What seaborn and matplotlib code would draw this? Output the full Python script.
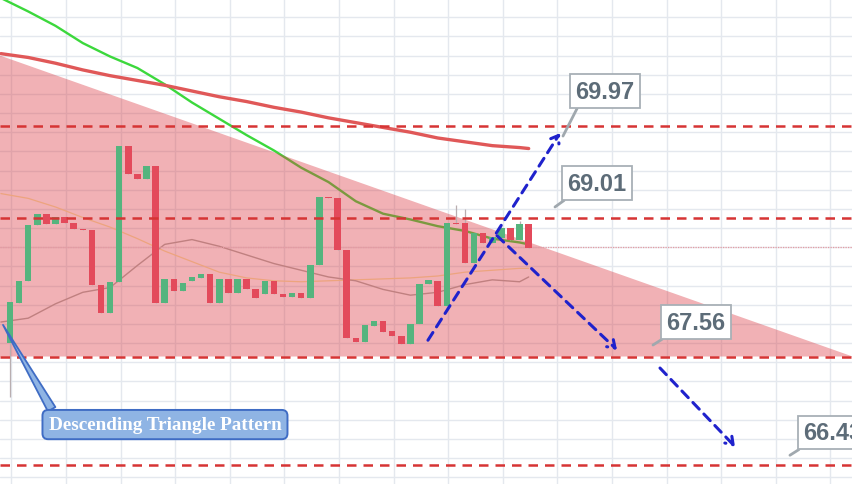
import numpy as np
import pandas as pd
import matplotlib
matplotlib.use("Agg")
import matplotlib.pyplot as plt
import seaborn as sns

# ---------------- data ----------------
candle_idx = list(range(58))
opens = [67.70, 68.12, 68.35, 68.93, 69.05, 68.94, 69.02, 68.95, 68.89, 68.88,
         68.31, 68.01, 68.34, 69.76, 69.46, 69.41, 69.55, 68.12, 68.37, 68.24,
         68.35, 68.38, 68.42, 68.12, 68.37, 68.22, 68.37, 68.26, 68.21, 68.35,
         68.21, 68.18, 68.22, 68.17, 68.52, 69.22, 69.21, 68.67, 67.75, 67.71,
         67.88, 67.93, 67.83, 67.77, 67.69, 67.90, 68.32, 68.35, 68.09, 68.95,
         68.95, 68.54, 68.85, 68.74, 68.80, 68.90, 68.78, 68.94]
closes = [68.13, 68.35, 68.93, 69.05, 68.94, 69.02, 68.95, 68.89, 68.88, 68.31,
          68.01, 68.34, 69.76, 69.46, 69.41, 69.55, 68.12, 68.37, 68.24, 68.33,
          68.39, 68.42, 68.12, 68.37, 68.22, 68.37, 68.26, 68.17, 68.35, 68.21,
          68.18, 68.22, 68.17, 68.52, 69.22, 69.21, 68.67, 67.75, 67.71, 67.89,
          67.93, 67.82, 67.77, 67.69, 67.90, 68.32, 68.36, 68.09, 68.95, 68.94,
          68.54, 68.85, 68.74, 68.81, 68.90, 68.78, 68.94, 68.69]
highs = [68.13, 68.35, 68.93, 69.05, 69.05, 69.02, 69.02, 68.95, 68.89, 68.88,
         68.31, 68.34, 69.76, 69.76, 69.46, 69.55, 69.55, 68.37, 68.37, 68.33,
         68.39, 68.42, 68.42, 68.37, 68.37, 68.37, 68.37, 68.26, 68.35, 68.35,
         68.21, 68.22, 68.22, 68.52, 69.22, 69.22, 69.21, 68.67, 67.75, 67.89,
         67.93, 67.93, 67.83, 67.77, 67.90, 68.32, 68.36, 68.35, 68.95, 69.14,
         69.10, 68.85, 68.85, 68.81, 68.93, 68.90, 68.97, 68.94]
lows = [67.14, 68.12, 68.35, 68.93, 68.94, 68.94, 68.95, 68.89, 68.88, 68.31,
        68.01, 68.01, 68.34, 69.46, 69.41, 69.41, 68.12, 68.12, 68.24, 68.24,
        68.35, 68.38, 68.12, 68.12, 68.22, 68.22, 68.26, 68.17, 68.21, 68.21,
        68.18, 68.18, 68.17, 68.17, 68.52, 69.21, 68.67, 67.75, 67.71, 67.71,
        67.88, 67.82, 67.77, 67.69, 67.69, 67.90, 68.32, 68.09, 68.09, 68.94,
        68.54, 68.54, 68.74, 68.74, 68.80, 68.78, 68.78, 68.69]

ma_idx = [-1, 2, 5, 8, 11, 14, 17, 20, 23, 26, 29, 32, 35, 38, 41, 44, 47, 50, 53, 56, 57]
ma_green = [71.30, 71.16, 71.01, 70.83, 70.69, 70.57, 70.40, 70.21, 70.04, 69.87, 69.71,
            69.53, 69.38, 69.18, 69.05, 68.99, 68.92, 68.87, 68.79, 68.75, 68.73]
ma_red = [70.72, 70.68, 70.62, 70.55, 70.49, 70.44, 70.39, 70.33, 70.27, 70.22, 70.16,
          70.11, 70.05, 70.00, 69.95, 69.90, 69.84, 69.80, 69.76, 69.74, 69.73]
ma_orange = [69.26, 69.21, 69.12, 69.01, 68.91, 68.79, 68.66, 68.55, 68.44, 68.38, 68.35,
             68.34, 68.35, 68.36, 68.37, 68.38, 68.40, 68.44, 68.46, 68.48, 68.48]
ma_brown = [67.92, 67.96, 68.11, 68.23, 68.28, 68.51, 68.73, 68.78, 68.71, 68.62, 68.53,
            68.46, 68.39, 68.35, 68.26, 68.20, 68.23, 68.31, 68.36, 68.34, 68.39]

levels = [69.97, 69.01, 67.56, 66.43]
level_labels = ["69.97", "69.01", "67.56", "66.43"]
last_price = 68.70

tri_x = [-1.1, 92.6, -1.1]
tri_y = [70.70, 67.56, 67.56]

# ---------------- figure ----------------
sns.set_style("white")
fig = plt.figure(figsize=(8.52, 4.85), dpi=100)
ax = fig.add_axes([0, 0, 1, 1])
ax.set_xlim(-1.1, 92.53)
ax.set_ylim(66.23, 71.29)
ax.set_axis_off()

# grid
for gx in np.arange(0.16, 93, 6):
    ax.axvline(gx, color="#e4e8ee", lw=1.0, zorder=0)
for gy in np.arange(66.3, 71.4, 0.2):
    ax.axhline(gy, color="#e4e8ee", lw=1.0, zorder=0)

df = pd.DataFrame({"idx": ma_idx, "green": ma_green, "red": ma_red,
                   "orange": ma_orange, "brown": ma_brown})

# green MA below triangle fill
sns.lineplot(data=df, x="idx", y="green", ax=ax, color="#3cd83c", lw=1.7, zorder=1)

# triangle fill
ax.fill(tri_x, tri_y, color="#dc3c46", alpha=0.40, lw=0, zorder=2)

# thin MAs
sns.lineplot(data=df, x="idx", y="orange", ax=ax, color="#eda47e", lw=0.9, zorder=3)
sns.lineplot(data=df, x="idx", y="brown", ax=ax, color="#c08080", lw=1.0, zorder=3)
sns.lineplot(data=df, x="idx", y="red", ax=ax, color="#e05858", lw=2.4, zorder=4)

# last price line
ax.axhline(last_price, color="#e59aa2", lw=0.9, ls=(0, (1, 1)), zorder=3)

# candles
o = np.array(opens); c = np.array(closes)
up = c >= o
body_lo = np.minimum(o, c)
body_h = np.maximum(np.abs(c - o), 0.012)
cols = np.where(up, "#55b47e", "#e34a5b")
ax.vlines(candle_idx, lows, highs, colors="#b9aeb0", lw=0.9, zorder=5)
ax.bar(candle_idx, body_h, bottom=body_lo, width=0.72, color=list(cols), lw=0, zorder=6)

# dashed horizontal levels
for lv in levels:
    ax.axhline(lv, color="#d63434", lw=1.8, ls=(0, (3.8, 2.8)), zorder=7)

# blue arrows
arrow_kw = dict(arrowstyle="->,head_length=0.5,head_width=0.35", color="#1f22cc",
                lw=2.2, ls=(0, (3, 2.2)), shrinkA=0, shrinkB=0)
ax.annotate("", xy=(60.44, 69.89), xytext=(45.93, 67.73), arrowprops=arrow_kw, zorder=8)
ax.annotate("", xy=(66.7, 67.63), xytext=(53.52, 68.82), arrowprops=arrow_kw, zorder=8)
ax.annotate("", xy=(79.67, 66.62), xytext=(71.43, 67.44), arrowprops=arrow_kw, zorder=8)

# level labels
label_pos = [(65.38, 70.33), (64.51, 69.37), (75.38, 67.92), (90.44, 66.77)]
tail_pos = [(60.77, 69.86), (59.89, 69.12), (70.66, 67.68), (85.71, 66.53)]
for txt, (bx, by), (tx, ty) in zip(level_labels, label_pos, tail_pos):
    ax.annotate(txt, xy=(tx, ty), xytext=(bx, by), ha="center", va="center",
                fontsize=17, fontweight="bold", family="Liberation Sans", color="#5d6c78",
                bbox=dict(boxstyle="square,pad=0.22", fc="white", ec="#a8b0b6", lw=1.3),
                arrowprops=dict(arrowstyle="-", color="#a0a8ae", lw=2.0,
                                relpos=(0.08, 0.0), shrinkA=0, shrinkB=0),
                zorder=9, annotation_clip=False)

# pattern callout
ax.annotate("Descending Triangle Pattern", xy=(-0.77, 67.89), xytext=(17.03, 66.85),
            ha="center", va="center", fontsize=13.8, fontweight="bold",
            family="Liberation Serif", color="white",
            bbox=dict(boxstyle="round,pad=0.32,rounding_size=0.3", fc="#8fb4e4",
                      ec="#3f6cc4", lw=1.4),
            arrowprops=dict(arrowstyle="wedge,tail_width=0.45,shrink_factor=0.5",
                            fc="#8fb4e4", ec="#3f6cc4", lw=1.3,
                            relpos=(0.03, 1.0), shrinkA=0, shrinkB=0),
            zorder=9)

fig.savefig("out.png", dpi=100)
